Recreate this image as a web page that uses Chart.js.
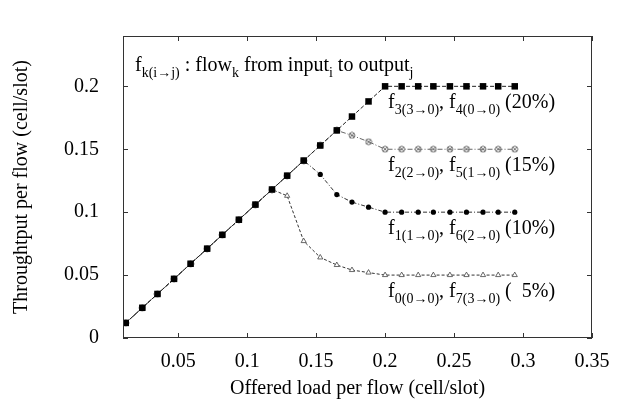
<!DOCTYPE html>
<html>
<head>
<meta charset="utf-8">
<script src="https://cdn.jsdelivr.net/npm/chart.js@4"></script>
<style>
  html, body { margin: 0; padding: 0; background: #fff; }
  #wrap { width: 623px; height: 407px; }
</style>
</head>
<body>
<div id="wrap"><canvas id="chart" width="623" height="407"></canvas></div>
<script>
// offered load per flow (x) for every simulated point
const offeredLoad = [0.012, 0.024, 0.035, 0.047, 0.059, 0.071, 0.082, 0.094, 0.106, 0.118, 0.129, 0.141, 0.153,
  0.165, 0.176, 0.188, 0.2, 0.212, 0.224, 0.235, 0.247, 0.259, 0.271, 0.282, 0.294]

// throughput per flow for each share
const share20 = [0.012, 0.024, 0.035, 0.047, 0.059, 0.071, 0.082, 0.094, 0.106, 0.118, 0.129, 0.141, 0.153,
  0.165, 0.176, 0.188, 0.2, 0.2, 0.2, 0.2, 0.2, 0.2, 0.2, 0.2, 0.2]
const share15 = [0.012, 0.024, 0.035, 0.047, 0.059, 0.071, 0.082, 0.094, 0.106, 0.118, 0.129, 0.141, 0.153,
  0.165, 0.161, 0.156, 0.15, 0.15, 0.15, 0.15, 0.15, 0.15, 0.15, 0.15, 0.15]
const share10 = [0.012, 0.024, 0.035, 0.047, 0.059, 0.071, 0.082, 0.094, 0.106, 0.118, 0.129, 0.141, 0.13,
  0.114, 0.108, 0.104, 0.1, 0.1, 0.1, 0.1, 0.1, 0.1, 0.1, 0.1, 0.1]
const share5 = [0.012, 0.024, 0.035, 0.047, 0.059, 0.071, 0.082, 0.094, 0.106, 0.118, 0.113, 0.077, 0.064,
  0.058, 0.054, 0.052, 0.05, 0.05, 0.05, 0.05, 0.05, 0.05, 0.05, 0.05, 0.05]

const xTicks = [0.05, 0.1, 0.15, 0.2, 0.25, 0.3, 0.35]
const yTicks = [0, 0.05, 0.1, 0.15, 0.2]

// text pieces: [text, isSubscript]
const headerText = [['f'], ['k(i\u2192j)', 1], [' : flow'], ['k', 1], [' from input'], ['i', 1], [' to output'], ['j', 1]]
const seriesText = [
  [['f'], ['3(3\u21920)', 1], [', f'], ['4(0\u21920)', 1], [' (20%)']],
  [['f'], ['2(2\u21920)', 1], [', f'], ['5(1\u21920)', 1], [' (15%)']],
  [['f'], ['1(1\u21920)', 1], [', f'], ['6(2\u21920)', 1], [' (10%)']],
  [['f'], ['0(0\u21920)', 1], [', f'], ['7(3\u21920)', 1], [' (  5%)']]
]
const plateaus = [0.2, 0.15, 0.1, 0.05]

const serif = '"Liberation Serif", "DejaVu Serif", serif'

const toPoints = ys => ys.map((y, i) => ({ x: offeredLoad[i], y }))

// circle with a cross, the gnuplot look for the 15% curve
const crossCircle = (() => {
  const c = document.createElement('canvas')
  c.width = 8
  c.height = 8
  const g = c.getContext('2d')
  g.strokeStyle = '#777'
  g.lineWidth = 1
  g.beginPath()
  g.arc(4, 4, 3, 0, Math.PI * 2)
  g.stroke()
  g.beginPath()
  g.moveTo(2, 2); g.lineTo(6, 6)
  g.moveTo(6, 2); g.lineTo(2, 6)
  g.stroke()
  return c
})()

function drawRich(ctx, parts, x, y) {
  let cx = x
  parts.forEach(([txt, sub]) => {
    ctx.font = (sub ? 14 : 20) + 'px ' + serif
    ctx.fillText(txt, cx, sub ? y + 6 : y)
    cx += ctx.measureText(txt).width
  })
}

const framePlugin = {
  id: 'frame',
  afterDraw(chart) {
    const { ctx, chartArea: a, scales } = chart
    ctx.save()
    ctx.strokeStyle = '#333'
    ctx.lineWidth = 1
    ctx.strokeRect(a.left + 0.5, a.top + 0.5, a.right - a.left - 1, a.bottom - a.top - 1)
    ctx.beginPath()
    xTicks.forEach(v => {
      const px = Math.round(scales.x.getPixelForValue(v)) + 0.5
      ctx.moveTo(px, a.bottom); ctx.lineTo(px, a.bottom - 5)
      ctx.moveTo(px, a.top); ctx.lineTo(px, a.top + 5)
    })
    yTicks.forEach(v => {
      const py = Math.round(scales.y.getPixelForValue(v)) + 0.5
      ctx.moveTo(a.left, py); ctx.lineTo(a.left + 5, py)
      ctx.moveTo(a.right, py); ctx.lineTo(a.right - 5, py)
    })
    ctx.stroke()

    ctx.fillStyle = '#000'
    ctx.textBaseline = 'alphabetic'
    drawRich(ctx, headerText, a.left + 12, a.top + 35)
    const x0 = scales.x.getPixelForValue(0.2) + 3
    seriesText.forEach((parts, i) => {
      drawRich(ctx, parts, x0, scales.y.getPixelForValue(plateaus[i]) + 22)
    })
    ctx.restore()
  }
}

new Chart(document.getElementById('chart'), {
  type: 'line',
  data: {
    datasets: [
      {
        label: '20%',
        data: toPoints(share20),
        borderColor: '#222',
        borderWidth: 1,
        borderDash: [4, 2],
        pointStyle: 'rect',
        pointRadius: 4.6,
        backgroundColor: '#000',
        pointBorderColor: '#000',
        pointBorderWidth: 0
      },
      {
        label: '15%',
        data: toPoints(share15),
        borderColor: '#666',
        borderWidth: 1,
        borderDash: [5, 2, 1, 2],
        pointStyle: crossCircle,
        backgroundColor: '#777'
      },
      {
        label: '10%',
        data: toPoints(share10),
        borderColor: '#333',
        borderWidth: 1,
        borderDash: [4, 2, 1, 2],
        pointStyle: 'circle',
        pointRadius: 2.6,
        backgroundColor: '#000',
        pointBorderColor: '#000',
        pointBorderWidth: 0
      },
      {
        label: '5%',
        data: toPoints(share5),
        borderColor: '#333',
        borderWidth: 1,
        borderDash: [3, 2],
        pointStyle: 'triangle',
        pointRadius: 3,
        backgroundColor: '#fff',
        pointBorderColor: '#444',
        pointBorderWidth: 0.8
      }
    ]
  },
  options: {
    responsive: false,
    devicePixelRatio: 1,
    animation: false,
    layout: { padding: { left: 0, right: 31, top: 12, bottom: 0 } },
    plugins: { legend: { display: false }, tooltip: { enabled: false } },
    scales: {
      x: {
        type: 'linear',
        min: 0.01,
        max: 0.35,
        afterBuildTicks: s => { s.ticks = xTicks.map(v => ({ value: v })) },
        afterFit: s => { s.height = 69 },
        grid: { display: false, drawTicks: false },
        border: { display: false },
        ticks: {
          autoSkip: false,
          maxRotation: 0,
          padding: 12,
          color: '#000',
          font: { family: serif, size: 20 },
          callback: v => String(v)
        },
        title: {
          display: true,
          text: 'Offered load per flow (cell/slot)',
          color: '#000',
          font: { family: serif, size: 20 },
          padding: { top: 0, bottom: 6 }
        }
      },
      y: {
        type: 'linear',
        min: 0,
        max: 0.24,
        afterBuildTicks: s => { s.ticks = yTicks.map(v => ({ value: v })) },
        afterFit: s => { s.width = 123 },
        grid: { display: false, drawTicks: false },
        border: { display: false },
        ticks: {
          padding: 24,
          color: '#000',
          font: { family: serif, size: 20 },
          callback: v => String(v)
        },
        title: {
          display: true,
          text: 'Throughtput per flow (cell/slot)',
          color: '#000',
          font: { family: serif, size: 20 },
          padding: { top: 10, bottom: 0 }
        }
      }
    }
  },
  plugins: [framePlugin]
})
</script>
</body>
</html>
